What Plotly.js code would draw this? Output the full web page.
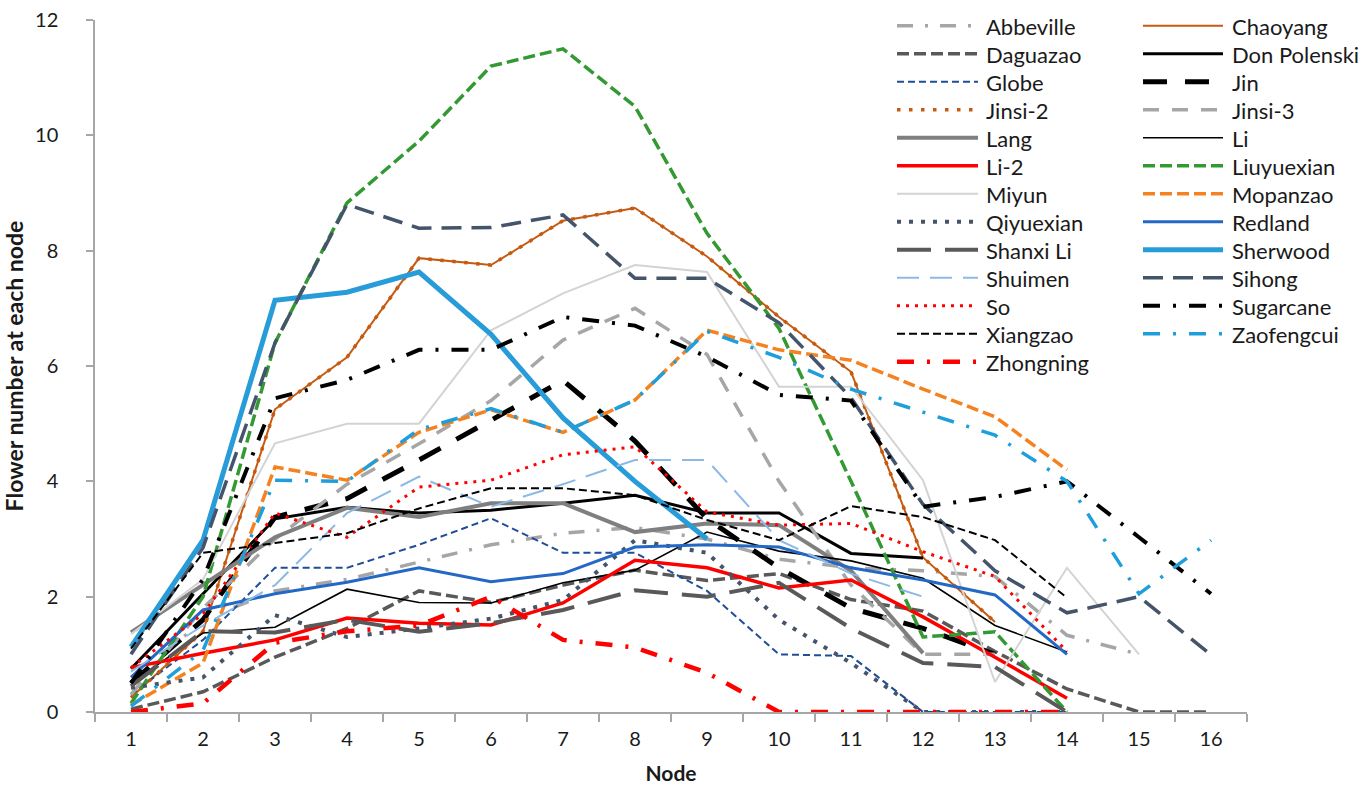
<!DOCTYPE html>
<html><head><meta charset="utf-8">
<script src="https://cdn.plot.ly/plotly-3.0.1.min.js"></script>
<style>html,body{margin:0;padding:0;background:#fff}#chart{width:1365px;height:787px}</style>
</head><body><div id="chart"></div>
<script>
// ---- data ----
const nodes = ['1','2','3','4','5','6','7','8','9','10','11','12','13','14','15','16'];

const abbeville   = [0.5, 1.6, 2.1, 2.3, 2.6, 2.9, 3.1, 3.2, 3.0, 2.65, 2.5, 2.45, 2.35, 1.33, 1.0];
const chaoyang    = [0.25, 1.4, 5.25, 6.15, 7.87, 7.75, 8.52, 8.74, 7.9, 6.85, 5.9, 2.68, 1.56];
const daguazao    = [0.05, 0.35, 0.95, 1.45, 2.1, 1.9, 2.2, 2.46, 2.28, 2.4, 1.95, 1.75, 1.05, 0.4, 0, 0];
const donPolenski = [0.75, 2.05, 3.35, 3.55, 3.45, 3.5, 3.62, 3.76, 3.45, 3.45, 2.75, 2.67];
const globe       = [0.3, 1.25, 2.5, 2.5, 2.9, 3.36, 2.76, 2.76, 2.1, 1.0, 0.97, 0, 0, 0];
const jin         = [0.5, 1.6, 3.38, 3.7, 4.37, 5.06, 5.75, 4.7, 3.35, 2.5, 1.8, 1.45, 1.0];
const jinsi2      = [0.25, 1.4, 5.25, 6.15, 7.87, 7.75, 8.52, 8.74, 7.9, 6.85, 5.9, 2.68, 1.56];
const jinsi3      = [0.3, 1.8, 3.0, 3.95, 4.65, 5.4, 6.45, 7.0, 6.2, 4.0, 2.2, 1.0, 1.0];
const lang        = [1.38, 2.2, 3.03, 3.54, 3.38, 3.62, 3.62, 3.12, 3.27, 3.24, 2.45, 1.02];
const li          = [0.5, 1.37, 1.47, 2.13, 1.9, 1.89, 2.24, 2.46, 3.12, 2.79, 2.62, 2.32, 1.5, 1.04];
const li2         = [0.77, 1.02, 1.25, 1.63, 1.54, 1.51, 1.89, 2.63, 2.5, 2.15, 2.29, 1.65, 0.95, 0.24];
const liuyuexian  = [0.15, 2.0, 6.4, 8.83, 9.9, 11.2, 11.5, 10.5, 8.3, 6.65, 4.0, 1.3, 1.39, 0];
const miyun       = [1.35, 2.3, 4.66, 5.0, 5.0, 6.62, 7.26, 7.75, 7.63, 5.64, 5.64, 4.02, 0.52, 2.5, 1.0];
const mopanzao    = [0.12, 0.85, 4.25, 4.02, 4.85, 5.24, 4.85, 5.41, 6.62, 6.28, 6.1, 5.6, 5.12, 4.2];
const qiyuexian   = [0.42, 0.6, 1.68, 1.3, 1.45, 1.62, 1.94, 2.98, 2.76, 1.6, 0.85, 0, 0, 0];
const redland     = [0.6, 1.77, 2.05, 2.25, 2.5, 2.26, 2.4, 2.86, 2.9, 2.86, 2.5, 2.29, 2.03, 1.0];
const shanxiLi    = [0.45, 1.4, 1.38, 1.6, 1.39, 1.54, 1.77, 2.11, 2.0, 2.24, 1.45, 0.85, 0.78, 0];
const sherwood    = [1.13, 2.98, 7.14, 7.28, 7.63, 6.55, 5.1, 4.0, 3.0];
const shuimen     = [0.7, 1.5, 2.2, 3.45, 4.08, 3.56, 3.95, 4.37, 4.37, 2.98, 2.4, 2.0];
const sihong      = [1.0, 2.85, 6.4, 8.8, 8.39, 8.4, 8.62, 7.52, 7.52, 6.75, 5.45, 3.6, 2.45, 1.72, 2.0, 0.99];
const so          = [0.77, 1.7, 3.45, 3.03, 3.9, 4.02, 4.46, 4.6, 3.47, 3.24, 3.27, 2.78, 2.35, 1.05];
const sugarcane   = [0.5, 2.3, 5.44, 5.76, 6.28, 6.28, 6.85, 6.7, 6.16, 5.5, 5.4, 3.56, 3.73, 4.0, 3.03, 2.05];
const xiangzao    = [1.1, 2.76, 2.93, 3.1, 3.53, 3.88, 3.88, 3.76, 3.33, 2.98, 3.57, 3.38, 2.98, 1.98];
const zaofengcui  = [0.1, 1.07, 4.02, 4.0, 4.9, 5.26, 4.85, 5.41, 6.6, 6.15, 5.6, 5.2, 4.8, 4.0, 2.05, 2.98];
const zhongning   = [0, 0.15, 1.2, 1.4, 1.5, 2.0, 1.25, 1.12, 0.68, 0, 0, 0, 0, 0];

const seriesNames = ['Abbeville','Chaoyang','Daguazao','Don Polenski','Globe','Jin','Jinsi-2','Jinsi-3',
  'Lang','Li','Li-2','Liuyuexian','Miyun','Mopanzao','Qiyuexian','Redland','Shanxi Li','Sherwood',
  'Shuimen','Sihong','So','Sugarcane','Xiangzao','Zaofengcui','Zhongning'];
const seriesValues = [abbeville, chaoyang, daguazao, donPolenski, globe, jin, jinsi2, jinsi3,
  lang, li, li2, liuyuexian, miyun, mopanzao, qiyuexian, redland, shanxiLi, sherwood,
  shuimen, sihong, so, sugarcane, xiangzao, zaofengcui, zhongning];

// ---- styles ----
const styles = {
  'Abbeville':   {color:'#A6A6A6', width:3.5, dash:'16px,12px,3px,12px'},
  'Chaoyang':    {color:'#C55A11', width:2,   dash:'solid'},
  'Daguazao':    {color:'#595959', width:3.5, dash:'12px,5px'},
  'Don Polenski':{color:'#000000', width:3,   dash:'solid'},
  'Globe':       {color:'#1F4E96', width:2,   dash:'7px,4px'},
  'Jin':         {color:'#000000', width:5,   dash:'24px,18px'},
  'Jinsi-2':     {color:'#C55A11', width:3.5, dash:'3.5px,8.5px'},
  'Jinsi-3':     {color:'#A6A6A6', width:3.5, dash:'16px,13px'},
  'Lang':        {color:'#7F7F7F', width:4,   dash:'solid'},
  'Li':          {color:'#000000', width:1.6, dash:'solid'},
  'Li-2':        {color:'#FF0000', width:3.5, dash:'solid'},
  'Liuyuexian':  {color:'#339933', width:3.5, dash:'12px,5px'},
  'Miyun':       {color:'#D3D3D3', width:2,   dash:'solid'},
  'Mopanzao':    {color:'#F58220', width:3.5, dash:'12px,5px'},
  'Qiyuexian':   {color:'#44546A', width:4,   dash:'4px,8px'},
  'Redland':     {color:'#2268C4', width:3,   dash:'solid'},
  'Shanxi Li':   {color:'#595959', width:4,   dash:'34px,14px'},
  'Sherwood':    {color:'#289CD8', width:5,   dash:'solid'},
  'Shuimen':     {color:'#8CB9E5', width:2,   dash:'22px,11px'},
  'Sihong':      {color:'#44546A', width:3.5, dash:'20px,10px'},
  'So':          {color:'#FF0000', width:3,   dash:'3px,6px'},
  'Sugarcane':   {color:'#000000', width:4,   dash:'17px,13px,3px,13px'},
  'Xiangzao':    {color:'#000000', width:2,   dash:'8px,4px'},
  'Zaofengcui':  {color:'#1E9FDC', width:3.5, dash:'17px,13px,3px,13px'},
  'Zhongning':   {color:'#FF0000', width:4.5, dash:'17px,13px,3px,13px'}
};

const FONT = 'Lato, "Liberation Sans", sans-serif';
const W = 1365, H = 787, ML = 95, MR = 118, MT = 20, MB = 75;
const PW = W - ML - MR, PH = H - MT - MB;
const px2x = p => (p - ML) / PW;
const px2y = p => (H - MB - p) / PH;

const traces = seriesNames.map((name, i) => ({
  type: 'scatter', mode: 'lines', name: name,
  x: nodes.slice(0, seriesValues[i].length),
  y: seriesValues[i],
  line: {color: styles[name].color, width: styles[name].width, dash: styles[name].dash},
  showlegend: false,
  hovertemplate: name + '<br>Node %{x}: %{y}<extra></extra>'
}));

// ---- custom two-column legend (row-major, like the original) ----
const shapes = [], annotations = [];
seriesNames.forEach((name, i) => {
  const row = Math.floor(i / 2), col = i % 2;
  const yPx = 25.7 + 28 * row;
  const x0 = col === 0 ? 897 : 1143, x1 = col === 0 ? 978 : 1223, xt = col === 0 ? 984 : 1230;
  const st = styles[name];
  shapes.push({type:'line', xref:'paper', yref:'paper', x0:px2x(x0), x1:px2x(x1), y0:px2y(yPx), y1:px2y(yPx),
    line:{color:st.color, width:st.width, dash:st.dash}});
  annotations.push({xref:'paper', yref:'paper', x:px2x(xt), y:px2y(yPx+1), xanchor:'left', yanchor:'middle',
    text:name, showarrow:false, font:{family:FONT, size:22, color:'#1a1a1a'}});
});

const layout = {
  width: W, height: H,
  margin: {l: ML, r: MR, t: MT, b: MB},
  paper_bgcolor: '#fff', plot_bgcolor: '#fff',
  showlegend: false,
  font: {family: FONT, color: '#1a1a1a'},
  xaxis: {
    type: 'category', range: [-0.5, 15.5], tickson: 'boundaries',
    ticks: 'outside', ticklen: 8, tickwidth: 1.5, tickcolor: '#A6A6A6',
    showline: true, linecolor: '#A6A6A6', linewidth: 1.5,
    showgrid: false, zeroline: false, fixedrange: true,
    tickfont: {family: FONT, size: 20, color: '#1a1a1a'},
    ticklabelstandoff: 8,
    title: {text: 'Node', font: {family: FONT, size: 21, weight: 700, color: '#1a1a1a'}, standoff: 18}
  },
  yaxis: {
    range: [0, 12], tick0: 0, dtick: 2,
    ticks: 'outside', ticklen: 7, tickwidth: 1.5, tickcolor: '#A6A6A6',
    showline: true, linecolor: '#A6A6A6', linewidth: 1.5,
    showgrid: false, zeroline: false, fixedrange: true,
    tickfont: {family: FONT, size: 20, color: '#1a1a1a'},
    ticklabelstandoff: 24,
    title: {text: 'Flower number at each node', font: {family: FONT, size: 23, weight: 700, color: '#1a1a1a'}, standoff: 10}
  },
  shapes: shapes,
  annotations: annotations
};

Plotly.newPlot('chart', traces, layout, {displayModeBar: false, responsive: false});
</script>
</body></html>
